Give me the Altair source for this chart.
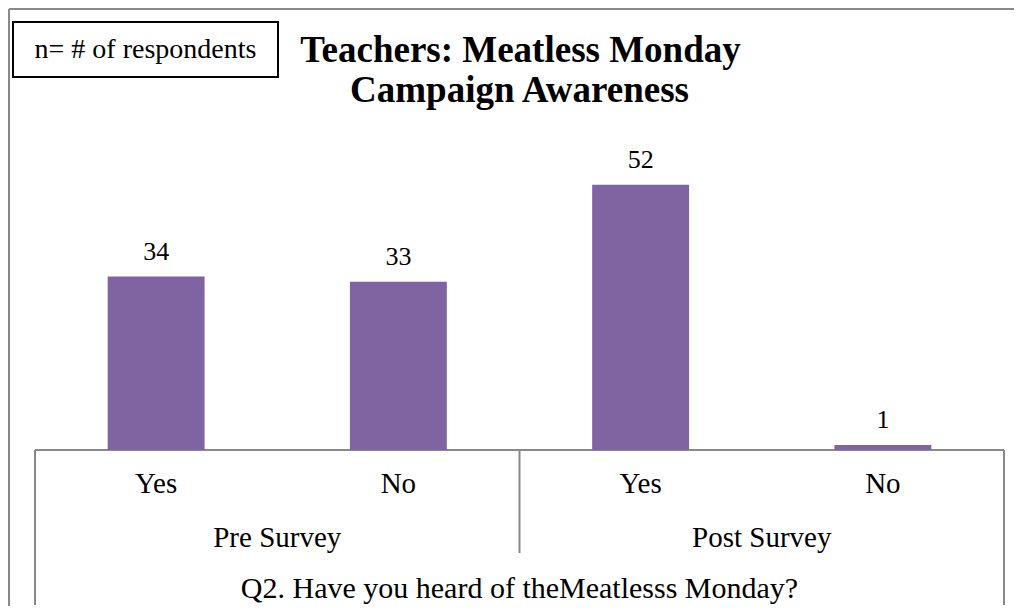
import altair as alt
import pandas as pd

# ---- data ----
groups = ["Pre Survey", "Pre Survey", "Post Survey", "Post Survey"]
answers = ["Yes", "No", "Yes", "No"]
counts = [34, 33, 52, 1]
group_names = ["Pre Survey", "Post Survey"]
title_lines = ["Teachers: Meatless Monday", "Campaign Awareness"]
axis_title = "Q2. Have you heard of theMeatlesss Monday?"
note = "n= # of respondents"

df = pd.DataFrame({"group": groups, "answer": answers, "count": counts})
df["key"] = df["group"] + " " + df["answer"]
keys = list(df["key"])
gdf = pd.DataFrame({"group": group_names})

W, H = 969, 306
FONT = "Liberation Serif"
BAR = "#8064A2"
LINE = "#898989"

x_enc = alt.X("key:N", sort=keys, axis=None,
              scale=alt.Scale(paddingInner=0.6, paddingOuter=0.3))
y_enc = alt.Y("count:Q", axis=None,
              scale=alt.Scale(domain=[0, 60], nice=False, zero=True))

bars = alt.Chart(df).mark_bar(color=BAR).encode(x=x_enc, y=y_enc)

values = alt.Chart(df).mark_text(
    font=FONT, fontSize=26, baseline="alphabetic", dy=-17, color="black"
).encode(x=x_enc, y=y_enc, text="count:Q")

cat_labels = alt.Chart(df).mark_text(
    font=FONT, fontSize=29, baseline="alphabetic", color="black"
).encode(x=x_enc, y=alt.value(349), text="answer:N")

grp_labels = alt.Chart(gdf).mark_text(
    font=FONT, fontSize=29, baseline="alphabetic", color="black"
).encode(
    x=alt.X("group:N", sort=group_names, axis=None,
            scale=alt.Scale(paddingInner=0, paddingOuter=0)),
    y=alt.value(403),
    text="group:N",
)

one = pd.DataFrame({"k": [0]})


def rule(x1, x2, y1, y2, color=LINE, width=2):
    return alt.Chart(one).mark_rule(color=color, strokeWidth=width).encode(
        x=alt.value(x1), x2=alt.value(x2), y=alt.value(y1), y2=alt.value(y2)
    )


def label(txt, xv, yv, size, bold=False, baseline="alphabetic"):
    return alt.Chart(one).mark_text(
        font=FONT, fontSize=size, fontWeight="bold" if bold else "normal",
        baseline=baseline, align="center", color="black", text=txt
    ).encode(x=alt.value(xv), y=alt.value(yv))


lines = [
    rule(0, W, H, H),            # category axis line
    rule(0, 0, H, 461),          # left boundary
    rule(W, W, H, 461),          # right boundary
    rule(W / 2, W / 2, H, 409),  # group divider
    rule(-26, W + 10, -135, -135),  # outer frame top
    rule(-26, -26, -135, 470),      # outer frame left
]

note_box = alt.Chart(one).mark_rect(
    fill="white", stroke="black", strokeWidth=2
).encode(x=alt.value(-22), x2=alt.value(243), y=alt.value(-122), y2=alt.value(-67))

texts = [
    label(note, 110.5, -94.5, 28, baseline="middle"),
    label(title_lines[0], W / 2 + 1, -82, 37, bold=True),
    label(title_lines[1], W / 2, -42, 37, bold=True),
    label(axis_title, W / 2, 454, 30),
]

chart = alt.layer(
    *lines, note_box, bars, values, cat_labels, grp_labels, *texts
).resolve_scale(x="independent").properties(
    width=W, height=H,
    autosize="none",
    padding={"left": 27, "top": 136, "right": 10, "bottom": 156},
    background="white",
).configure_view(stroke=None)

chart.save("out.html", embed_options={"renderer": "svg", "actions": False})
